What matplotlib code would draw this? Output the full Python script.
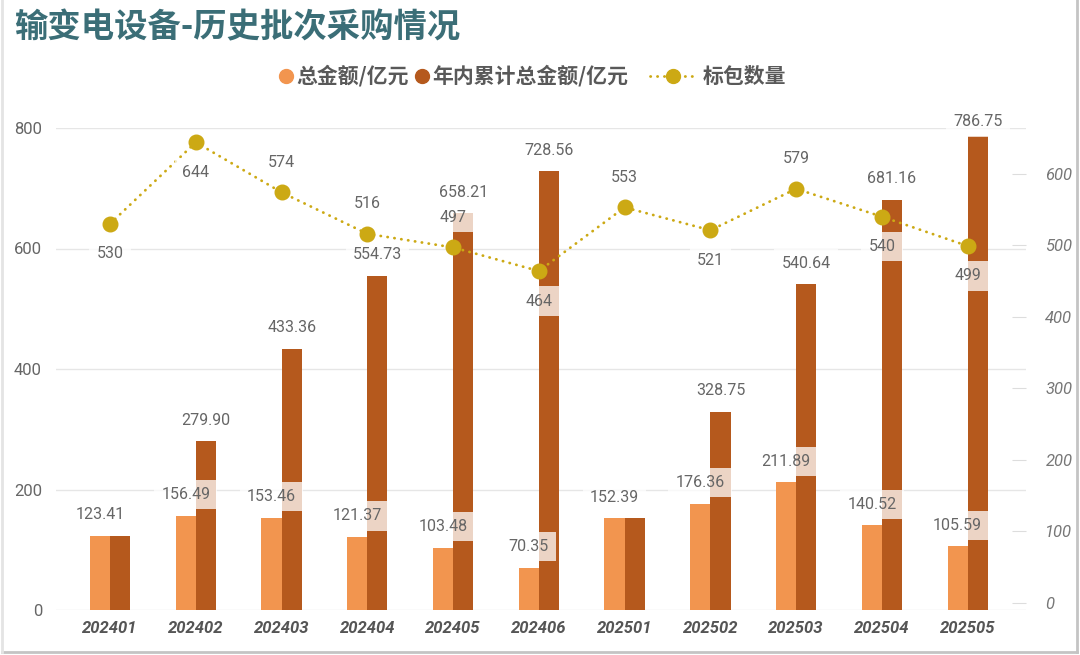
import matplotlib
matplotlib.use('Agg')
import matplotlib.pyplot as plt
from matplotlib.lines import Line2D
import numpy as np

# data
periods = ['202401', '202402', '202403', '202404', '202405', '202406',
           '202501', '202502', '202503', '202504', '202505']
total_amount = [123.41, 156.49, 153.46, 121.37, 103.48, 70.35,
                152.39, 176.36, 211.89, 140.52, 105.59]
cum_amount = [123.41, 279.90, 433.36, 554.73, 658.21, 728.56,
              152.39, 328.75, 540.64, 681.16, 786.75]
lot_count = [530, 644, 574, 516, 497, 464, 553, 521, 579, 540, 499]
left_ticks = [0, 200, 400, 600, 800]
right_ticks = [0, 100, 200, 300, 400, 500, 600]

# label placement for the count series (1 = above the point, -1 = below)
count_side = [-1, -1, 1, 1, 1, -1, 1, -1, 1, -1, -1]

LIGHT = '#f2954f'
DARK = '#b5591d'
GOLD = '#cca914'
TEAL = '#3b6e77'
GRAY = '#666666'
NUM_FONT = ['Roboto', 'DejaVu Sans']
CJK_FONT = ['Noto Sans CJK SC', 'DejaVu Sans']

W, H = 1080, 655
fig = plt.figure(figsize=(W / 100, H / 100), dpi=100)

def fx(px):
    return px / W

def fy(py):
    return 1 - py / H

ax = fig.add_axes([fx(56), fy(610), fx(1026) - fx(56), fy(128) - fy(610)])
ax2 = ax.twinx()

x = np.arange(len(periods))
bw = 0.235
label_box = dict(boxstyle='square,pad=0.45', fc='white', ec='none', alpha=0.75)

ax.bar(x - bw / 2, total_amount, bw, color=LIGHT, zorder=2)
ax.bar(x + bw / 2, cum_amount, bw, color=DARK, zorder=2)

for i in range(len(periods)):
    ax.annotate(f'{total_amount[i]:.2f}', (x[i] - bw / 2, total_amount[i]),
                xytext=(0, 21), textcoords='offset pixels', ha='center', va='center',
                fontsize=11.5, color=GRAY, family=NUM_FONT, bbox=label_box, zorder=5)
    if cum_amount[i] != total_amount[i]:
        # the top-most label gets squeezed under the plot top, as in the original
        off = 21 if cum_amount[i] < 780 else 14
        ax.annotate(f'{cum_amount[i]:.2f}', (x[i] + bw / 2, cum_amount[i]),
                    xytext=(0, off), textcoords='offset pixels', ha='center', va='center',
                    fontsize=11.5, color=GRAY, family=NUM_FONT, bbox=label_box, zorder=5,
                    annotation_clip=False)

ax.set_ylim(0, 800)
ax.set_xlim(-0.63, 10.68)
ax.set_yticks(left_ticks)
ax.grid(axis='y', color='#e6e6e6', lw=1, zorder=0)
ax.set_axisbelow(True)
ax.set_xticks(x)
ax.set_xticklabels(periods, fontsize=12, fontweight='bold', style='italic',
                   color='#555555', family=NUM_FONT)
ax.tick_params(axis='x', length=0, pad=8)
ax.tick_params(axis='y', length=0, pad=10, labelsize=12, labelcolor=GRAY)
for t in ax.get_yticklabels():
    t.set_family(NUM_FONT)

ax2.plot(x, lot_count, color=GOLD, lw=2, linestyle=(0, (0.1, 2.4)),
         dash_capstyle='round', marker='o', markersize=10.5, zorder=3)
for i in range(len(periods)):
    ax2.annotate(str(lot_count[i]), (x[i], lot_count[i]),
                 xytext=(0, 30 * count_side[i]), textcoords='offset pixels',
                 ha='center', va='center', fontsize=11.5, color=GRAY,
                 family=NUM_FONT, bbox=label_box, zorder=5)
ax2.set_ylim(-10, 664)
ax2.set_yticks(right_ticks)
ax2.tick_params(axis='y', direction='in', length=10, color='#dddddd',
                pad=14, labelsize=12, labelcolor='#777777')
for t in ax2.get_yticklabels():
    t.set_family(NUM_FONT)
    t.set_style('italic')

for a in (ax, ax2):
    for s in a.spines.values():
        s.set_visible(False)

# title
fig.text(fx(14), fy(28), '输变电设备-历史批次采购情况', fontsize=24, fontweight='bold',
         color=TEAL, family=CJK_FONT, ha='left', va='center')

# legend
ly = fy(76)
fig.add_artist(Line2D([fx(286)], [ly], marker='o', markersize=10, color=LIGHT,
                      transform=fig.transFigure))
fig.text(fx(296), ly, '总金额/亿元', fontsize=15, fontweight='bold', color='#595959',
         family=CJK_FONT, ha='left', va='center')
fig.add_artist(Line2D([fx(422)], [ly], marker='o', markersize=10, color=DARK,
                      transform=fig.transFigure))
fig.text(fx(432), ly, '年内累计总金额/亿元', fontsize=15, fontweight='bold', color='#595959',
         family=CJK_FONT, ha='left', va='center')
fig.add_artist(Line2D([fx(650), fx(697)], [ly, ly], color=GOLD, lw=2,
                      linestyle=(0, (0.1, 2.4)), dash_capstyle='round',
                      transform=fig.transFigure))
fig.add_artist(Line2D([fx(673)], [ly], marker='o', markersize=10, color=GOLD,
                      transform=fig.transFigure))
fig.text(fx(703), ly, '标包数量', fontsize=15, fontweight='bold', color='#595959',
         family=CJK_FONT, ha='left', va='center')

# card border
fig.add_artist(Line2D([fx(1077), fx(1077)], [fy(0), fy(652)], color='#c4c4c4', lw=2,
                      transform=fig.transFigure))
fig.add_artist(Line2D([fx(2), fx(1077)], [fy(652), fy(652)], color='#c4c4c4', lw=2,
                      transform=fig.transFigure))
fig.add_artist(Line2D([fx(2), fx(2)], [fy(0), fy(652)], color='#e4e4e4', lw=2,
                      transform=fig.transFigure))

fig.savefig('out.png', dpi=100, facecolor='white')
